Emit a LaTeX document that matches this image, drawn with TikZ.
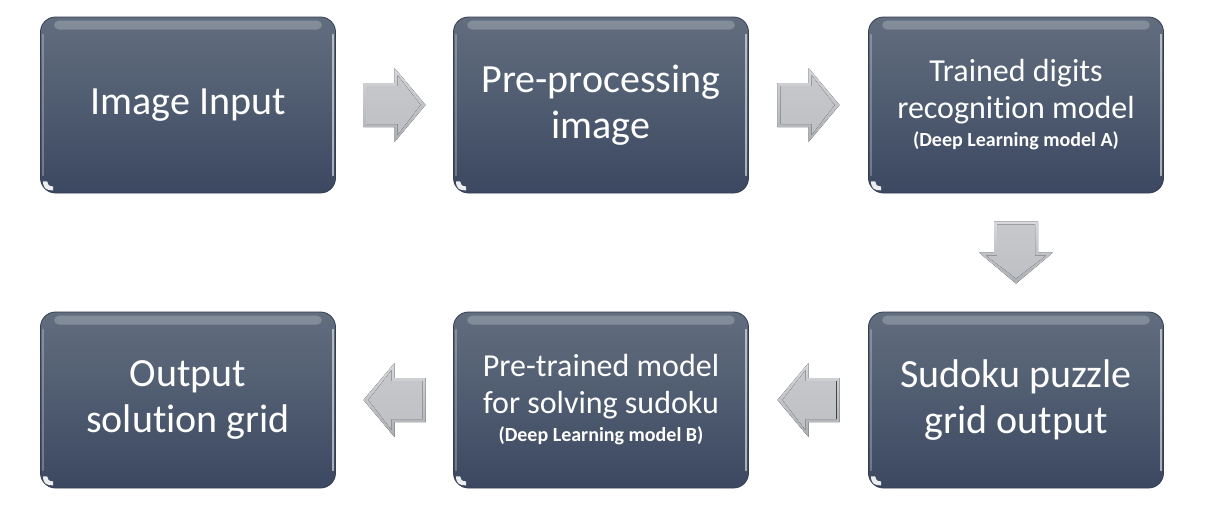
\documentclass[tikz,border=0pt]{standalone}
\usepackage{fontspec}
\setmainfont{Carlito}[Ligatures={NoCommon}]
\usetikzlibrary{calc}
\definecolor{boxtop}{RGB}{98,110,126}
\definecolor{boxbot}{RGB}{60,72,97}
\definecolor{boxedge}{RGB}{52,62,82}
\definecolor{arrlight}{RGB}{214,216,219}
\definecolor{arrface}{RGB}{198,200,204}
\definecolor{arrface2}{RGB}{190,192,196}
\definecolor{arrdark}{RGB}{172,175,180}
\tikzset{
  stepbox/.style={rounded corners=15pt, minimum width=295pt, minimum height=176pt,
    top color=boxtop, bottom color=boxbot, draw=boxedge, line width=0.8pt,
    text=white, align=center, inner sep=4pt,
    font=\fontsize{40}{46}\selectfont},
  barrow/.pic={
    \fill[top color=arrlight, bottom color=arrdark]
      (-31pt,22pt) -- (0pt,22pt) -- (0pt,37pt) -- (31pt,0pt) -- (0pt,-37pt)
      -- (0pt,-22pt) -- (-31pt,-22pt) -- cycle;
    \fill[top color=arrface, bottom color=arrface2]
      (-28pt,19pt) -- (3pt,19pt) -- (3pt,30pt) -- (26pt,0pt) -- (3pt,-30pt)
      -- (3pt,-19pt) -- (-28pt,-19pt) -- cycle;
  }
}
\newcommand{\glossbox}[1]{%
  \fill[white, opacity=0.22, rounded corners=5pt]
    ([xshift=14pt,yshift=-4pt]#1.north west) rectangle ([xshift=-14pt,yshift=-13pt]#1.north east);
  \draw[white, opacity=0.55, line width=1.6pt, line cap=round]
    ([xshift=-3pt,yshift=-18pt]#1.north east) -- ([xshift=-3pt,yshift=18pt]#1.south east);
  \draw[white, opacity=0.25, line width=1.4pt, line cap=round]
    ([xshift=3pt,yshift=-18pt]#1.north west) -- ([xshift=3pt,yshift=18pt]#1.south west);
  \fill[white, opacity=0.9]
    ([xshift=3pt,yshift=12pt]#1.south west) .. controls ([xshift=3pt,yshift=5pt]#1.south west) and ([xshift=6pt,yshift=3pt]#1.south west) .. ([xshift=13pt,yshift=3pt]#1.south west)
    -- ([xshift=13pt,yshift=7pt]#1.south west) .. controls ([xshift=9pt,yshift=7pt]#1.south west) and ([xshift=7pt,yshift=9pt]#1.south west) .. ([xshift=7pt,yshift=12pt]#1.south west) -- cycle;
}
\begin{document}
\begin{tikzpicture}[x=1pt,y=-1pt]
\useasboundingbox[fill=white] (0,0) rectangle (1216,506);
\node[stepbox] (b1) at (188,105) {Image Input};
\node[stepbox] (b2) at (601,105) {Pre-processing\\image};
\node[stepbox] (b3) at (1016,105) {{\fontsize{32}{36}\selectfont Trained digits}\\[-9pt]{\fontsize{32}{36}\selectfont recognition model}\\[-18pt]{\fontsize{20}{24}\selectfont\bfseries (Deep Learning model A)}};
\node[stepbox] (b4) at (188,400) {Output\\solution grid};
\node[stepbox] (b5) at (601,400) {{\fontsize{32}{36}\selectfont Pre-trained model}\\[-9pt]{\fontsize{32}{36}\selectfont for solving sudoku}\\[-18pt]{\fontsize{20}{24}\selectfont\bfseries (Deep Learning model B)}};
\node[stepbox] (b6) at (1016,400) {Sudoku puzzle\\grid output};
\foreach \n in {b1,b2,b3,b4,b5,b6}{\glossbox{\n}}
\coordinate (m12) at ($(b1.east)!0.5!(b2.west)$);
\coordinate (m23) at ($(b2.east)!0.5!(b3.west)$);
\coordinate (m36) at ($(b3.south)!0.5!(b6.north)$);
\coordinate (m65) at ($(b6.west)!0.5!(b5.east)$);
\coordinate (m54) at ($(b5.west)!0.5!(b4.east)$);
\pic at (m12) {barrow};
\pic at (m23) {barrow};
\pic[rotate=-90] at (m36) {barrow};
\pic[rotate=180] at (m65) {barrow};
\pic[rotate=180] at (m54) {barrow};
\end{tikzpicture}
\end{document}
